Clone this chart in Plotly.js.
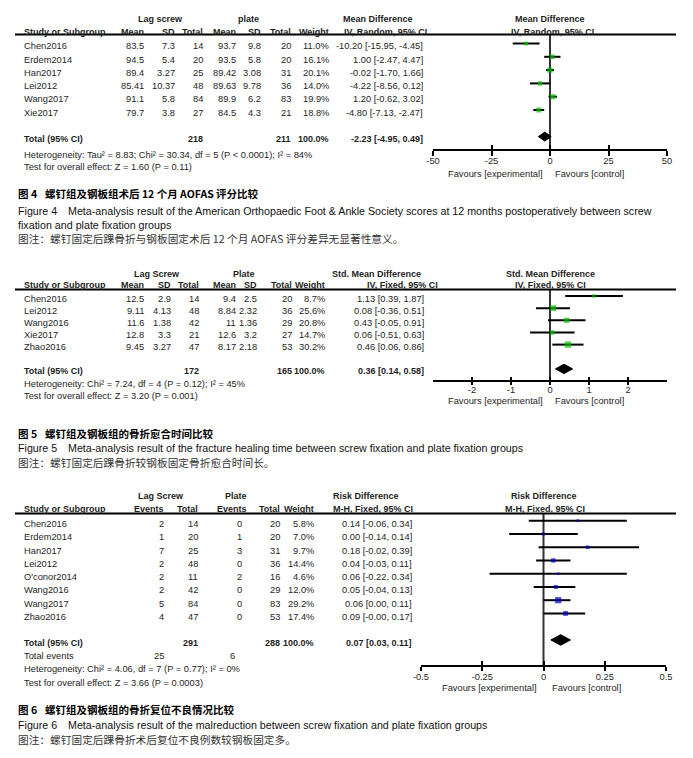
<!DOCTYPE html>
<html><head><meta charset="utf-8">
<script src="https://cdn.plot.ly/plotly-3.0.1.min.js"></script>
<style>html,body{margin:0;padding:0;background:#fff}#chart{width:693px;height:758px}</style>
</head><body><div id="chart"></div>
<script>
// ================= Figure 4 data (AOFAS, Mean Difference) =================
const studies4 = ['Chen2016', 'Erdem2014', 'Han2017', 'Lei2012', 'Wang2017', 'Xie2017'];
const lagMean4 = [83.5, 94.5, 89.4, 85.41, 91.1, 79.7];
const lagSD4   = [7.3, 5.4, 3.27, 10.37, 5.8, 3.8];
const lagN4    = [14, 20, 25, 48, 84, 27];
const plMean4  = [93.7, 93.5, 89.42, 89.63, 89.9, 84.5];
const plSD4    = [9.8, 5.8, 3.08, 9.78, 6.2, 4.3];
const plN4     = [20, 20, 31, 36, 83, 21];
const weight4  = [11.0, 16.1, 20.1, 14.0, 19.9, 18.8];
const md4      = [-10.20, 1.00, -0.02, -4.22, 1.20, -4.80];
const lo4      = [-15.95, -2.47, -1.70, -8.56, -0.62, -7.13];
const hi4      = [-4.45, 4.47, 1.66, 0.12, 3.02, -2.47];
const total4   = [-2.23, -4.95, 0.49];
const tickVals4 = [-50, -25, 0, 25, 50];
const tickText4 = ['-50', '-25', '0', '25', '50'];

// ================= Figure 5 data (healing time, Std. Mean Difference) =================
const studies5 = ['Chen2016', 'Lei2012', 'Wang2016', 'Xie2017', 'Zhao2016'];
const lagMean5 = [12.5, 9.11, 11.6, 12.8, 9.45];
const lagSD5   = [2.9, 4.13, 1.38, 3.3, 3.27];
const lagN5    = [14, 48, 42, 21, 47];
const plMean5  = [9.4, 8.84, 11, 12.6, 8.17];
const plSD5    = [2.5, 2.32, 1.36, 3.2, 2.18];
const plN5     = [20, 36, 29, 27, 53];
const weight5  = [8.7, 25.6, 20.8, 14.7, 30.2];
const smd5     = [1.13, 0.08, 0.43, 0.06, 0.46];
const lo5      = [0.39, -0.36, -0.05, -0.51, 0.06];
const hi5      = [1.87, 0.51, 0.91, 0.63, 0.86];
const total5   = [0.36, 0.14, 0.58];
const tickVals5 = [-2, -1, 0, 1, 2];
const tickText5 = ['-2', '-1', '0', '1', '2'];

// ================= Figure 6 data (malreduction, Risk Difference) =================
const studies6 = ['Chen2016', 'Erdem2014', 'Han2017', 'Lei2012', "O'conor2014", 'Wang2016', 'Wang2017', 'Zhao2016'];
const lagEv6   = [2, 1, 7, 2, 2, 2, 5, 4];
const lagN6    = [14, 20, 25, 48, 11, 42, 84, 47];
const plEv6    = [0, 1, 3, 0, 2, 0, 0, 0];
const plN6     = [20, 20, 31, 36, 16, 29, 83, 53];
const weight6  = [5.8, 7.0, 9.7, 14.4, 4.6, 12.0, 29.2, 17.4];
const rd6      = [0.14, 0.00, 0.18, 0.04, 0.06, 0.05, 0.06, 0.09];
const lo6      = [-0.06, -0.14, -0.02, -0.03, -0.22, -0.04, 0.00, -0.00];
const hi6      = [0.34, 0.14, 0.39, 0.11, 0.34, 0.13, 0.11, 0.17];
const total6   = [0.07, 0.03, 0.11];
const tickVals6 = [-0.5, -0.25, 0, 0.25, 0.5];
const tickText6 = ['-0.5', '-0.25', '0', '0.25', '0.5'];

// ================= drawing =================
const W = 693, H = 758;
const FONT = 'Liberation Sans, Arial, Helvetica, sans-serif';
const CJK = 'Noto Sans CJK SC, Noto Sans, sans-serif';
const TXT = '#1e1e1e';
const BOLD = 9;
const ann = [], shapes = [], traces = [];
const layout = {
  width: W, height: H, margin: {l: 0, r: 0, t: 0, b: 0, pad: 0},
  paper_bgcolor: '#fff', plot_bgcolor: 'rgba(0,0,0,0)', showlegend: false,
  font: {family: FONT, size: 9.3, color: TXT}, hovermode: false
};
const X = v => v / W, Y = v => 1 - v / H;
function t(x, y, s, anchor, o) {
  o = o || {};
  ann.push({xref: 'paper', yref: 'paper', x: X(x), y: Y(y), text: s, xanchor: anchor || 'left',
    yanchor: 'middle', showarrow: false, borderpad: 0,
    font: {family: o.family || FONT, size: o.size || 9.3, color: o.color || TXT}});
}
const B = {size: BOLD};
function hline(x0, x1, y) {
  shapes.push({type: 'line', xref: 'paper', yref: 'paper', x0: X(x0), x1: X(x1), y0: Y(y), y1: Y(y),
    line: {color: '#000', width: 2}});
}
const num = v => String(v);
const f2 = v => ((v < 0 || Object.is(v, -0)) ? '-' : '') + Math.abs(v).toFixed(2);
const pct = v => v.toFixed(1) + '%';
const ci = (e, l, h) => f2(e) + ' [' + f2(l) + ', ' + f2(h) + ']';
const sum = a => a.reduce((s, v) => s + v, 0);

function panel(p) {
  const tY = i => p.rowTop + i * p.rowStep + p.textOff;
  p.head1.forEach(h => t(h[1], p.h1, '<b>' + h[0] + '</b>', h[2], B));
  p.head2.forEach(h => t(h[1], p.h2, '<b>' + h[0] + '</b>', h[2], B));
  hline(15, 676, p.lineY);
  p.studies.forEach((s, i) => {
    t(23, tY(i), s, 'left');
    p.cols.forEach(c => t(c.x, tY(i), c.f(c.v[i]), 'right'));
    t(p.ciX, tY(i), ci(p.est[i], p.lo[i], p.hi[i]), 'right');
  });
  const ty = tY(p.totalIdx);
  t(23, ty, '<b>Total (95% CI)</b>', 'left', B);
  p.totals.forEach(c => t(c[1], ty, '<b>' + c[0] + '</b>', 'right', B));
  t(p.ciX, ty, '<b>' + ci(p.total[0], p.total[1], p.total[2]) + '</b>', 'right', B);
  p.extra.forEach(c => t(c[1], c[2], c[0], c[3] || 'left'));

  // forest marks
  const xa = p.xa, ya = p.ya;
  const lx = [], ly = [];
  p.est.forEach((e, i) => { lx.push(p.lo[i], p.hi[i], null); ly.push(i, i, null); });
  traces.push({type: 'scatter', mode: 'lines', x: lx, y: ly, xaxis: xa, yaxis: ya,
    line: {color: '#000', width: 2}, hoverinfo: 'skip'});
  traces.push({type: 'scatter', mode: 'markers', x: p.est, y: p.est.map((_, i) => i), xaxis: xa, yaxis: ya,
    marker: {symbol: 'square', size: p.weight.map(w => 1.15 * Math.sqrt(w)), color: p.color, line: {width: 0}}});
  const ti = p.totalIdx, hh = p.diamondHalf / p.rowStep;
  traces.push({type: 'scatter', mode: 'lines', fill: 'toself', fillcolor: '#000',
    x: [p.total[1], p.total[0], p.total[2], p.total[0], p.total[1]],
    y: [ti, ti - hh, ti, ti + hh, ti], xaxis: xa, yaxis: ya, line: {color: '#000', width: 1}});
  // dummy trace so the overlay tick axis exists
  traces.push({type: 'scatter', mode: 'markers', x: [], y: [], xaxis: p.xo, yaxis: ya});

  // axes: main axis carries labels + upward ticks, overlay carries downward ticks
  const xk = 'xaxis' + xa.slice(1), yk = 'yaxis' + ya.slice(1), ok = 'xaxis' + p.xo.slice(1);
  layout[yk] = {domain: [0, 1], range: [(H - p.rowTop) / p.rowStep, -p.rowTop / p.rowStep],
    visible: false, fixedrange: true, anchor: xa};
  layout[xk] = {domain: [X(p.ax0), X(p.ax1)], range: p.range, anchor: 'free', position: Y(p.axisY),
    showline: true, linecolor: '#000', linewidth: 2, ticks: 'inside', ticklen: p.tickUp,
    tickwidth: 2, tickcolor: '#000', tickmode: 'array', tickvals: p.tickVals, ticktext: p.tickText,
    ticklabelstandoff: p.standoff,
    tickfont: {family: FONT, size: 9.3, color: TXT}, showgrid: false, zeroline: false, fixedrange: true};
  layout[ok] = {overlaying: xa, range: p.range, anchor: 'free', position: Y(p.axisY),
    showline: false, ticks: 'outside', ticklen: p.tickDown, tickwidth: 2, tickcolor: '#000',
    tickmode: 'array', tickvals: p.tickVals, showticklabels: false, showgrid: false, zeroline: false,
    fixedrange: true};
  shapes.push({type: 'line', xref: xa, yref: 'paper', x0: 0, x1: 0, y0: Y(p.lineY), y1: Y(p.axisY),
    line: {color: '#333', width: 2}, layer: 'below'});
  t(p.favL, p.favY, 'Favours [experimental]', 'right');
  t(p.favR, p.favY, 'Favours [control]', 'left');
}

// ----- Figure 4 panel -----
panel({
  xa: 'x', ya: 'y', xo: 'x4', rowTop: 43.5, rowStep: 13.3, textOff: 2.7, totalIdx: 7,
  h1: 19, h2: 31.5, lineY: 34.5, axisY: 150, favY: 174, favL: 544, favR: 554,
  ax0: 433, ax1: 667, range: [-50, 50], tickVals: tickVals4, tickText: tickText4, tickUp: 4, tickDown: 5, standoff: 2,
  head1: [['Lag screw', 160, 'center'], ['plate', 248, 'center'], ['Mean Difference', 378, 'center'], ['Mean Difference', 550, 'center']],
  head2: [['Study or Subgroup', 23, 'left'], ['Mean', 145, 'right'], ['SD', 176, 'right'], ['Total', 204, 'right'],
          ['Mean', 237, 'right'], ['SD', 262, 'right'], ['Total', 292, 'right'], ['Weight', 330, 'right'],
          ['IV, Random, 95% CI', 385, 'center'], ['IV, Random, 95% CI', 552, 'center']],
  studies: studies4,
  cols: [{v: lagMean4, x: 145, f: num}, {v: lagSD4, x: 176, f: num}, {v: lagN4, x: 204, f: num},
         {v: plMean4, x: 237, f: num}, {v: plSD4, x: 262, f: num}, {v: plN4, x: 292, f: num},
         {v: weight4, x: 330, f: pct}],
  ciX: 424, est: md4, lo: lo4, hi: hi4, weight: weight4, total: total4,
  totals: [[sum(lagN4), 204], [sum(plN4), 292], ['100.0%', 330]],
  extra: [['Heterogeneity: Tau² = 8.83; Chi² = 30.34, df = 5 (P &lt; 0.0001); I² = 84%', 23, 155],
          ['Test for overall effect: Z = 1.60 (P = 0.11)', 23, 167]],
  color: '#00bf00', diamondHalf: 4.5
});

// ----- Figure 5 panel -----
panel({
  xa: 'x2', ya: 'y2', xo: 'x5', rowTop: 296, rowStep: 12.15, textOff: 2.6, totalIdx: 6,
  h1: 273.5, h2: 285, lineY: 289.5, axisY: 380.5, favY: 401.3, favL: 544, favR: 554,
  ax0: 433, ax1: 667, range: [-3, 3], tickVals: tickVals5, tickText: tickText5, tickUp: 3, tickDown: 3, standoff: 0,
  head1: [['Lag Screw', 157, 'center'], ['Plate', 244, 'center'], ['Std. Mean Difference', 376, 'center'], ['Std. Mean Difference', 550, 'center']],
  head2: [['Study or Subgroup', 23, 'left'], ['Mean', 145, 'right'], ['SD', 172, 'right'], ['Total', 200, 'right'],
          ['Mean', 237, 'right'], ['SD', 258, 'right'], ['Total', 293, 'right'], ['Weight', 326, 'right'],
          ['IV, Fixed, 95% CI', 402, 'center'], ['IV, Fixed, 95% CI', 550, 'center']],
  studies: studies5,
  cols: [{v: lagMean5, x: 145, f: num}, {v: lagSD5, x: 172, f: num}, {v: lagN5, x: 200, f: num},
         {v: plMean5, x: 237, f: num}, {v: plSD5, x: 258, f: num}, {v: plN5, x: 293, f: num},
         {v: weight5, x: 326, f: pct}],
  ciX: 425, est: smd5, lo: lo5, hi: hi5, weight: weight5, total: total5,
  totals: [[sum(lagN5), 200], [sum(plN5), 293], ['100.0%', 326]],
  extra: [['Heterogeneity: Chi² = 7.24, df = 4 (P = 0.12); I² = 45%', 23, 384],
          ['Test for overall effect: Z = 3.20 (P = 0.001)', 23, 396]],
  color: '#00bf00', diamondHalf: 4.7
});

// ----- Figure 6 panel -----
panel({
  xa: 'x3', ya: 'y3', xo: 'x6', rowTop: 520.7, rowStep: 13.25, textOff: 3.3, totalIdx: 9,
  h1: 496.3, h2: 509.5, lineY: 513.5, axisY: 666, favY: 688, favL: 538, favR: 551,
  ax0: 421, ax1: 666, range: [-0.5, 0.5], tickVals: tickVals6, tickText: tickText6, tickUp: 4, tickDown: 4, standoff: 2,
  head1: [['Lag Screw', 161, 'center'], ['Plate', 236, 'center'], ['Risk Difference', 366, 'center'], ['Risk Difference', 543.5, 'center']],
  head2: [['Study or Subgroup', 23, 'left'], ['Events', 165, 'right'], ['Total', 199, 'right'], ['Events', 248, 'right'],
          ['Total', 281, 'right'], ['Weight', 315, 'right'],
          ['M-H, Fixed, 95% CI', 373, 'center'], ['M-H, Fixed, 95% CI', 545, 'center']],
  studies: studies6,
  cols: [{v: lagEv6, x: 165, f: num}, {v: lagN6, x: 199, f: num}, {v: plEv6, x: 243, f: num},
         {v: plN6, x: 281, f: num}, {v: weight6, x: 315, f: pct}],
  ciX: 413, est: rd6, lo: lo6, hi: hi6, weight: weight6, total: total6,
  totals: [[sum(lagN6), 199], [sum(plN6), 281], ['100.0%', 315]],
  extra: [['Total events', 23, 656], [String(sum(lagEv6)), 165, 656, 'right'], [String(sum(plEv6)), 236, 656, 'right'],
          ['Heterogeneity: Chi² = 4.06, df = 7 (P = 0.77); I² = 0%', 23, 669],
          ['Test for overall effect: Z = 3.66 (P = 0.0003)', 23, 682.5]],
  color: '#0000cc', diamondHalf: 5.3
});

// ----- captions -----
const capCJK = {family: CJK, size: 10.5, color: '#000'};
const capNote = {family: CJK, size: 10.7, color: '#333'};
const capEN = {family: FONT, size: 10.7, color: '#111'};
function caption(y, num, zh, en, note) {
  t(17, y[0], '<b>图 ' + num + '</b>', 'left', capCJK);
  t(44, y[0], '<b>' + zh + '</b>', 'left', capCJK);
  t(17, y[1], 'Figure ' + num, 'left', capEN);
  t(67, y[1], en[0], 'left', capEN);
  let k = 2;
  for (let i = 1; i < en.length; i++) t(17, y[k++], en[i], 'left', capEN);
  t(17, y[k], note, 'left', capNote);
}
caption([193, 210.5, 224.5, 238], '4', '螺钉组及钢板组术后 12 个月 AOFAS 评分比较',
  ['Meta-analysis result of the American Orthopaedic Foot & Ankle Society scores at 12 months postoperatively between screw',
   'fixation and plate fixation groups'],
  '图注：螺钉固定后踝骨折与钢板固定术后 12 个月 AOFAS 评分差异无显著性意义。');
caption([433, 448, 462], '5', '螺钉组及钢板组的骨折愈合时间比较',
  ['Meta-analysis result of the fracture healing time between screw fixation and plate fixation groups'],
  '图注：螺钉固定后踝骨折较钢板固定骨折愈合时间长。');
caption([709, 725, 739.5], '6', '螺钉组及钢板组的骨折复位不良情况比较',
  ['Meta-analysis result of the malreduction between screw fixation and plate fixation groups'],
  '图注：螺钉固定后踝骨折术后复位不良例数较钢板固定多。');

layout.annotations = ann;
layout.shapes = shapes;
Plotly.newPlot('chart', traces, layout, {displayModeBar: false, staticPlot: true});
</script>
</body></html>
